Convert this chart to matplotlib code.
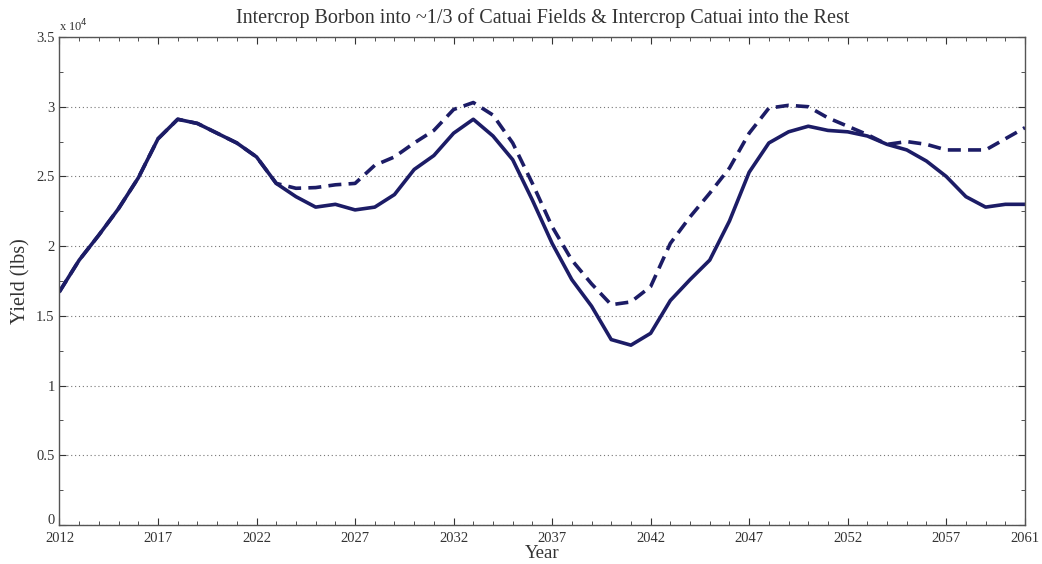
import numpy as np
import matplotlib
matplotlib.use("Agg")
import matplotlib.pyplot as plt
import matplotlib.transforms as mtransforms
from matplotlib.ticker import MultipleLocator, FuncFormatter, FixedLocator

years = np.arange(2012, 2062)

# yield (lbs)
solid = [16740, 19000, 20800, 22700, 24900, 27700, 29100, 28800, 28100, 27400,
         26400, 24500, 23550, 22800, 23000, 22600, 22800, 23700, 25500, 26500,
         28100, 29100, 27900, 26200, 23300, 20200, 17600, 15700, 13300, 12900,
         13750, 16100, 17600, 19000, 21800, 25300, 27400, 28200, 28600, 28300,
         28200, 27900, 27300, 26900, 26100, 25000, 23550, 22800, 23000, 23000]
dashed = [16740, 19000, 20800, 22700, 24900, 27700, 29100, 28800, 28100, 27400,
          26400, 24500, 24150, 24200, 24400, 24500, 25800, 26400, 27400, 28300,
          29800, 30300, 29400, 27400, 24500, 21400, 19000, 17300, 15800, 16000,
          17100, 20200, 22100, 23800, 25600, 28100, 29900, 30100, 30000, 29200,
          28600, 28000, 27300, 27500, 27300, 26900, 26900, 26900, 27700, 28500]

title = "Intercrop Borbon into ~1/3 of Catuai Fields & Intercrop Catuai into the Rest"
navy = "#1c1c66"

fig = plt.figure(figsize=(10.42, 5.64), dpi=100)
ax = fig.add_axes([0.0571, 0.0691, 0.9266, 0.8653])

ax.plot(years, solid, color=navy, lw=2.6, solid_capstyle="round")
ax.plot(years, dashed, color=navy, lw=2.6, dashes=(3.6, 2.0))

ax.set_xlim(2012, 2061)
ax.set_ylim(0, 35000)
ax.xaxis.set_major_locator(FixedLocator([2012, 2017, 2022, 2027, 2032, 2037, 2042, 2047, 2052, 2057, 2061]))
ax.xaxis.set_minor_locator(MultipleLocator(1))
ax.yaxis.set_major_locator(FixedLocator(np.arange(0, 35001, 5000)))
ax.yaxis.set_minor_locator(MultipleLocator(2500))
ax.yaxis.set_major_formatter(FuncFormatter(lambda v, p: "%g" % (v / 1e4)))

ax.tick_params(which="both", direction="in", top=True, right=True, colors="#333333",
               labelsize=10.5, labelcolor="#333333")
ax.tick_params(which="major", length=5)
ax.tick_params(which="minor", length=3)
ax.tick_params(axis="x", which="major", pad=5)
for lbl in ax.get_xticklabels() + ax.get_yticklabels():
    lbl.set_family("Liberation Serif")
for s in ax.spines.values():
    s.set_color("#555555")
    s.set_linewidth(1.0)

# lift the "0" label a little, as in the original
zero = ax.yaxis.get_major_ticks()[0].label1
zero.set_transform(zero.get_transform() +
                   mtransforms.ScaledTranslation(0, 4 / 72, fig.dpi_scale_trans))

ax.grid(axis="y", which="major", linestyle=(0, (1, 2.5)), color="#777777", lw=0.8)

ax.text(0.0, 1.005, r"x 10$^4$", transform=ax.transAxes, fontsize=9,
        family="Liberation Serif", color="#333333", va="bottom")
ax.set_title(title, fontsize=14.5, family="Liberation Serif", color="#333333", pad=10)
ax.set_xlabel("Year", fontsize=13.5, family="Liberation Serif", color="#333333", labelpad=0)
ax.set_ylabel("Yield (lbs)", fontsize=14.5, family="Liberation Serif", color="#333333", labelpad=4)

fig.savefig("out.png", dpi=100)
